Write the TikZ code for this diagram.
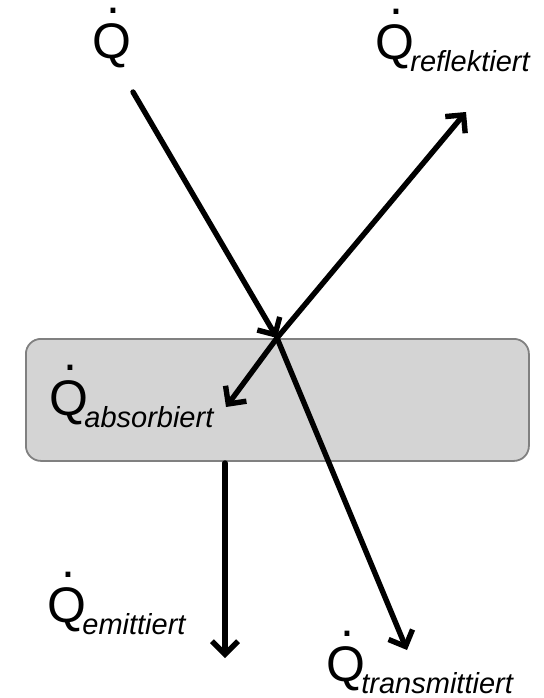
\documentclass[tikz,border=0pt]{standalone}
\usepackage{fontspec}
\setmainfont{Liberation Sans}
\usetikzlibrary{arrows.meta}
\newcommand\Qdt{\makebox[0pt][l]{\hspace{14.5pt}\raisebox{45pt}[0pt][0pt]{.}}Q}
\newcommand\bigQ{{\fontsize{50}{50}\selectfont\Qdt}}
\newcommand\heatlbl[1]{\bigQ\kern-3.5pt{\fontsize{29}{29}\selectfont\itshape\raisebox{-12pt}{#1}}}
\tikzset{
  flow/.style={line width=5.4pt, line cap=round, -{Straight Barb[length=13pt,width=26pt,line width=5.4pt]}},
  lbl/.style={anchor=base west, inner sep=0pt, outer sep=0pt},
  plate/.style={draw=black!50, line width=1.8pt, fill=black!17, rounded corners=15pt}
}
\begin{document}
\begin{tikzpicture}[x=1pt,y=-1pt]
\useasboundingbox (0,0) rectangle (543,698);
\node[plate, minimum width=503pt, minimum height=122pt, anchor=north west] (plate) at (25,338) {};
\coordinate (src) at (133,92);
\coordinate (hit) at (277,338);
\coordinate (refl) at (466,112);
\coordinate (abs) at (226,407);
\coordinate (trans) at (407,650);
\coordinate (emtop) at (225,463);
\coordinate (emend) at (225,658);
\draw[flow] (src) -- (hit);
\draw[flow, shorten <=-1pt] (hit) -- (trans);
\draw[flow] (hit) -- (refl);
\draw[flow] (hit) -- (abs);
\draw[flow] (emtop) -- (emend);
\node[lbl] (lq) at (92,59) {\bigQ};
\node[lbl] (lr) at (375,60) {\heatlbl{reflektiert}};
\node[lbl] (la) at (49,415) {\heatlbl{absorbiert}};
\node[lbl] (le) at (47,622) {\heatlbl{emittiert}};
\node[lbl] (lt) at (326,681) {\heatlbl{transmittiert}};
\end{tikzpicture}
\end{document}
